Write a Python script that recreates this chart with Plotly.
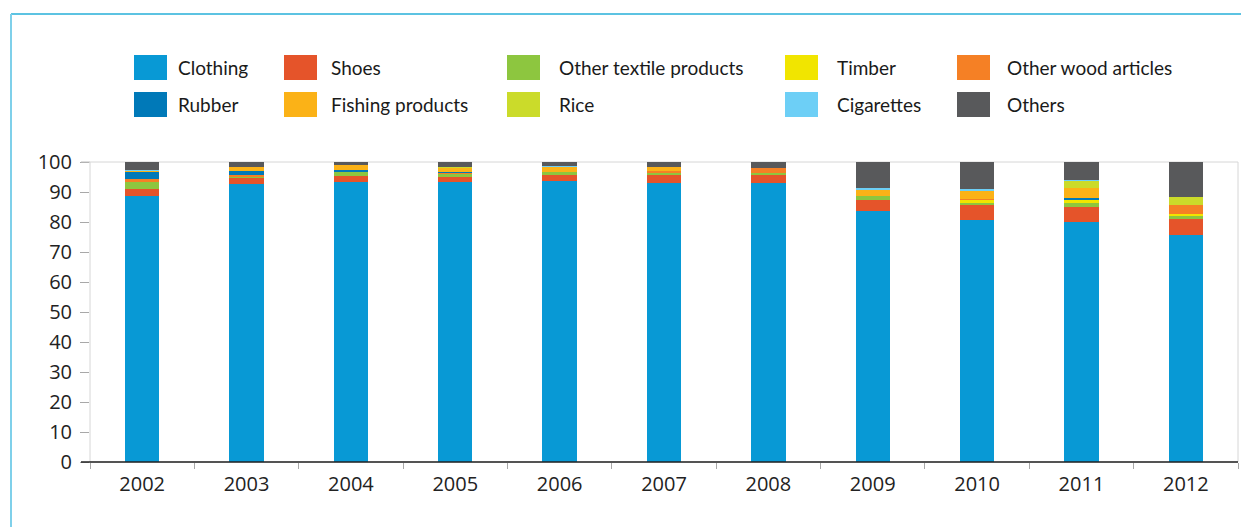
import plotly.graph_objects as go

years = ['2002', '2003', '2004', '2005', '2006', '2007', '2008', '2009', '2010', '2011', '2012']
clothing = [88.7, 92.6, 93.2, 93.3, 93.8, 93.0, 92.9, 83.8, 80.7, 80.0, 75.8]
shoes = [2.3, 2.2, 2.1, 1.7, 2.0, 2.9, 2.7, 3.6, 5.1, 5.0, 5.2]
other_textile = [2.3, 0.45, 1.3, 1.1, 0.8, 0.4, 0.7, 1.4, 0.7, 1.45, 1.3]
timber = [0, 0, 0, 0, 0, 0, 0, 0, 0.9, 0.9, 0.3]
other_wood = [1.0, 0.45, 0, 0.3, 0, 0.7, 1.7, 0, 0.4, 0, 3.0]
rubber = [2.4, 1.3, 0.7, 0.35, 0, 0, 0, 0, 0, 0.55, 0]
fishing = [0.4, 1.3, 1.7, 1.3, 1.9, 1.3, 0, 2.1, 2.8, 3.4, 0]
rice = [0, 0, 0, 0.2, 0, 0, 0, 0, 0, 2.4, 2.7]
cigarettes = [0.2, 0, 0, 0, 0.2, 0, 0, 0.5, 0.55, 0.35, 0]
others = [2.6, 1.7, 1.0, 1.7, 1.3, 1.7, 2.0, 8.6, 8.9, 5.9, 11.7]

series_names = ['Clothing', 'Shoes', 'Other textile products', 'Timber', 'Other wood articles',
                'Rubber', 'Fishing products', 'Rice', 'Cigarettes', 'Others']
series_values = [clothing, shoes, other_textile, timber, other_wood,
                 rubber, fishing, rice, cigarettes, others]
colors = ['#0899D5', '#E5542A', '#8DC63F', '#F1E500', '#F58025',
          '#0079B8', '#FBB217', '#CBDB2A', '#6DCFF6', '#58595B']

OFF = 8  # page body margin
W, H = 1249 - OFF, 527 - OFF
# plot area in screen pixels
SL, SR, ST, SB = 90, 1238, 162, 462
L, R, T, B = SL - OFF, SR - OFF, ST - OFF, SB - OFF


def px_x(p):
    return (p - SL) / (SR - SL)


def px_y(p):
    return (SB - p) / (SB - ST)


fig = go.Figure()
for name, vals, col in zip(series_names, series_values, colors):
    fig.add_trace(go.Bar(x=years, y=vals, name=name, marker=dict(color=col, line=dict(width=0)),
                         width=0.33, showlegend=False))

shapes = []
annotations = []
# custom legend: 5 columns x 2 rows (row-major order of the series)
col_swatch_x = [134, 284, 507, 785, 957]
col_text_x = [176, 329, 557, 835, 1005]
row_y = [(55, 80), (92, 117)]
for i, (name, col) in enumerate(zip(series_names, colors)):
    r, c = divmod(i, 5)
    y0, y1 = row_y[r]
    x0 = col_swatch_x[c]
    shapes.append(dict(type='rect', xref='paper', yref='paper',
                       x0=px_x(x0), x1=px_x(x0 + 33), y0=px_y(y1), y1=px_y(y0),
                       fillcolor=col, line=dict(width=0)))
    annotations.append(dict(text=name, xref='paper', yref='paper', x=px_x(col_text_x[c]),
                            y=px_y((y0 + y1) / 2), xanchor='left', yanchor='middle',
                            showarrow=False, font=dict(family='Lato', size=19, color='#1a1a1a')))

# plot area border
shapes.append(dict(type='rect', xref='paper', yref='paper', x0=0, x1=1, y0=0, y1=1,
                   line=dict(color='#d6d6d6', width=1), layer='below'))
# top line extending as tick
shapes.append(dict(type='line', xref='paper', yref='paper', x0=px_x(81), x1=0, y0=1, y1=1,
                   line=dict(color='#bdbdbd', width=1)))
# black baseline
shapes.append(dict(type='line', xref='paper', yref='paper', x0=px_x(81), x1=1, y0=0, y1=0,
                   line=dict(color='#222222', width=1.5)))
# outer light-blue frame
shapes.append(dict(type='line', xref='paper', yref='paper', x0=px_x(11), x1=px_x(1270),
                   y0=px_y(14), y1=px_y(14), line=dict(color='#5cc3e2', width=2)))
shapes.append(dict(type='line', xref='paper', yref='paper', x0=px_x(11), x1=px_x(11),
                   y0=px_y(14), y1=px_y(560), line=dict(color='#7fd0ea', width=2)))

fig.update_layout(
    width=W, height=H,
    margin=dict(l=L, r=W - R, t=T, b=H - B, autoexpand=False),
    barmode='stack',
    paper_bgcolor='white', plot_bgcolor='white',
    showlegend=False,
    shapes=shapes,
    annotations=annotations,
    xaxis=dict(type='category', showgrid=False, showline=False, zeroline=False,
               ticks='outside', tickson='boundaries', ticklen=6, tickcolor='#a8a8a8',
               ticklabelstandoff=8,
               tickfont=dict(family='Open Sans', size=20, color='#222222')),
    yaxis=dict(range=[0, 100], tickvals=[0, 10, 20, 30, 40, 50, 60, 70, 80, 90, 100],
               showgrid=False, zeroline=False, showline=False,
               ticks='outside', ticklen=9, tickcolor='#a8a8a8', ticklabelstandoff=4,
               tickfont=dict(family='Open Sans', size=20, color='#222222')),
)

fig.write_html('out.html')
